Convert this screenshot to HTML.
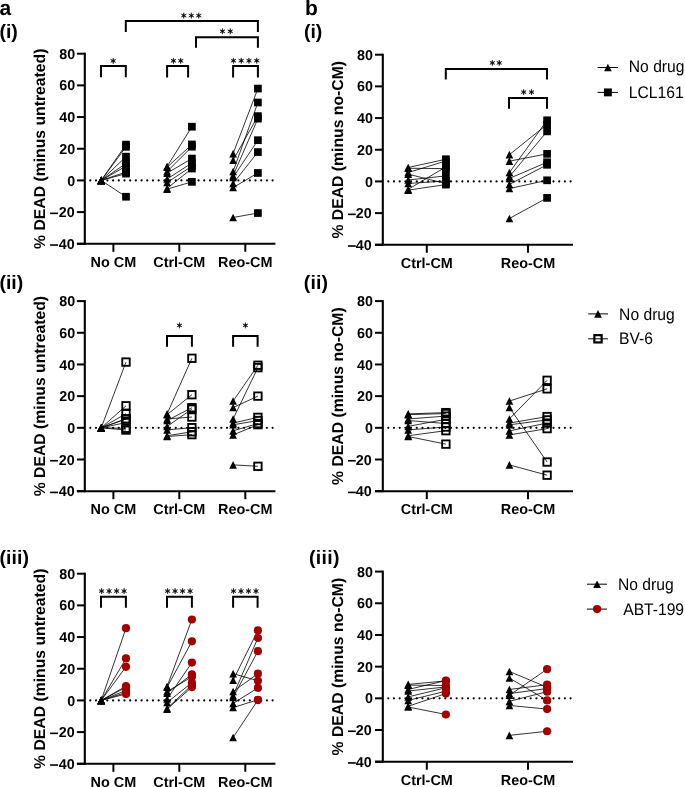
<!DOCTYPE html>
<html><head><meta charset="utf-8"><style>html,body{margin:0;padding:0;background:#fff;width:685px;height:787px;overflow:hidden}svg{will-change:transform}</style></head><body>
<svg width="685" height="787" viewBox="0 0 685 787" stroke="#000" fill="#000" font-family="'Liberation Sans', sans-serif" text-rendering="geometricPrecision" style="display:block">
<rect width="685" height="787" fill="#fff" stroke="none"/>
<text x="-0.6" y="14.9" font-size="21" font-weight="bold" text-anchor="start" stroke="none" >a</text>
<text x="305" y="15.3" font-size="21" font-weight="bold" text-anchor="start" stroke="none" >b</text>
<text x="-0.6" y="37.8" font-size="19.5" font-weight="bold" text-anchor="start" stroke="none" >(i)</text>
<text x="303.9" y="38" font-size="19.5" font-weight="bold" text-anchor="start" stroke="none" >(i)</text>
<text x="-0.6" y="289.2" font-size="19.5" font-weight="bold" text-anchor="start" stroke="none" >(ii)</text>
<text x="303.7" y="289.2" font-size="19.5" font-weight="bold" text-anchor="start" stroke="none" letter-spacing="0.2">(ii)</text>
<text x="-0.6" y="563.7" font-size="19.5" font-weight="bold" text-anchor="start" stroke="none" letter-spacing="0.1">(iii)</text>
<text x="308.9" y="563.7" font-size="19.5" font-weight="bold" text-anchor="start" stroke="none" letter-spacing="0.35">(iii)</text>
<line x1="597.6" y1="67.5" x2="618" y2="67.5" stroke-width="1.0" />
<line x1="597.6" y1="92.4" x2="618" y2="92.4" stroke-width="1.0" />
<path d="M607.9 63.7L611.75 71.3L604.05 71.3Z" stroke="none"/>
<rect x="603.95" y="88.45" width="7.9" height="7.9" stroke="none"/>
<text transform="translate(628.8,72.4) scale(1,1.07)" font-size="15.65" font-weight="normal" stroke="none">No drug</text>
<text transform="translate(628.8,97.9) scale(1,1.07)" font-size="15.65" font-weight="normal" stroke="none">LCL161</text>
<line x1="588.2" y1="313.9" x2="608" y2="313.9" stroke-width="1.0" />
<line x1="588.2" y1="338.8" x2="608" y2="338.8" stroke-width="1.0" />
<path d="M598 310.1L601.85 317.7L594.15 317.7Z" stroke="none"/>
<rect x="594.35" y="335.15" width="7.3" height="7.3" fill="none" stroke-width="2.2"/>
<text transform="translate(619.1,319.5) scale(1,1.07)" font-size="15.65" font-weight="normal" stroke="none">No drug</text>
<text transform="translate(619.1,344) scale(1,1.07)" font-size="15.65" font-weight="normal" stroke="none">BV-6</text>
<line x1="587" y1="584.2" x2="607" y2="584.2" stroke-width="1.0" />
<line x1="587" y1="609.1" x2="607" y2="609.1" stroke-width="1.0" />
<path d="M597.1 580.4L600.95 588L593.25 588Z" stroke="none"/>
<circle cx="597.1" cy="609.1" r="4.1" fill="#a20000" stroke="none"/>
<text transform="translate(618,590) scale(1,1.07)" font-size="15.65" font-weight="normal" stroke="none">No drug</text>
<text transform="translate(623.2,615.1) scale(1,1.07)" font-size="15.65" font-weight="normal" stroke="none">ABT-199</text>
<line x1="84.8" y1="52.7" x2="84.8" y2="244.78" stroke-width="2.1" />
<line x1="76.9" y1="243.78" x2="84.8" y2="243.78" stroke-width="2.0" />
<text x="74.6" y="248.88" font-size="14.3" font-weight="bold" text-anchor="end" stroke="none" >40</text>
<rect x="50.1" y="244.23" width="7.9" height="1.6" stroke="none"/>
<line x1="76.9" y1="212.1" x2="84.8" y2="212.1" stroke-width="2.0" />
<text x="74.6" y="217.2" font-size="14.3" font-weight="bold" text-anchor="end" stroke="none" >20</text>
<rect x="50.1" y="212.55" width="7.9" height="1.6" stroke="none"/>
<line x1="76.9" y1="180.42" x2="84.8" y2="180.42" stroke-width="2.0" />
<text x="75.2" y="185.52" font-size="14.3" font-weight="bold" text-anchor="end" stroke="none" >0</text>
<line x1="76.9" y1="148.74" x2="84.8" y2="148.74" stroke-width="2.0" />
<text x="75.2" y="153.84" font-size="14.3" font-weight="bold" text-anchor="end" stroke="none" >20</text>
<line x1="76.9" y1="117.06" x2="84.8" y2="117.06" stroke-width="2.0" />
<text x="75.2" y="122.16" font-size="14.3" font-weight="bold" text-anchor="end" stroke="none" >40</text>
<line x1="76.9" y1="85.38" x2="84.8" y2="85.38" stroke-width="2.0" />
<text x="75.2" y="90.48" font-size="14.3" font-weight="bold" text-anchor="end" stroke="none" >60</text>
<line x1="76.9" y1="53.7" x2="84.8" y2="53.7" stroke-width="2.0" />
<text x="75.2" y="58.8" font-size="14.3" font-weight="bold" text-anchor="end" stroke="none" >80</text>
<line x1="76.9" y1="243.78" x2="275.4" y2="243.78" stroke-width="2.1" />
<line x1="113.4" y1="243.78" x2="113.4" y2="251.78" stroke-width="2.0" />
<text x="113.4" y="266.98" font-size="14.4" font-weight="bold" text-anchor="middle" stroke="none" >No CM</text>
<line x1="179.3" y1="243.78" x2="179.3" y2="251.78" stroke-width="2.0" />
<text x="179.3" y="266.98" font-size="14.4" font-weight="bold" text-anchor="middle" stroke="none" >Ctrl-CM</text>
<line x1="245.3" y1="243.78" x2="245.3" y2="251.78" stroke-width="2.0" />
<text x="245.3" y="266.98" font-size="14.4" font-weight="bold" text-anchor="middle" stroke="none" >Reo-CM</text>
<text transform="translate(45.4,148.74) rotate(-90)" x="0" y="0" font-size="15.75" font-weight="bold" text-anchor="middle" stroke="none">% DEAD (minus untreated)</text>
<line x1="90.3" y1="180.42" x2="275.4" y2="180.42" stroke-width="2.2" stroke-dasharray="0 5.697" stroke-linecap="round"/>
<line x1="101.2" y1="180.42" x2="126" y2="144.62" stroke-width="0.8"/>
<line x1="101.2" y1="180.42" x2="126" y2="146.84" stroke-width="0.8"/>
<line x1="101.2" y1="180.42" x2="126" y2="156.66" stroke-width="0.8"/>
<line x1="101.2" y1="180.42" x2="126" y2="163.47" stroke-width="0.8"/>
<line x1="101.2" y1="180.42" x2="126" y2="166.16" stroke-width="0.8"/>
<line x1="101.2" y1="180.42" x2="126" y2="172.02" stroke-width="0.8"/>
<line x1="101.2" y1="180.42" x2="126" y2="173.61" stroke-width="0.8"/>
<line x1="101.2" y1="180.42" x2="126" y2="196.74" stroke-width="0.8"/>
<path d="M101.2 176.62L105.05 184.22L97.35 184.22Z" stroke="none"/>
<path d="M101.2 176.62L105.05 184.22L97.35 184.22Z" stroke="none"/>
<path d="M101.2 176.62L105.05 184.22L97.35 184.22Z" stroke="none"/>
<path d="M101.2 176.62L105.05 184.22L97.35 184.22Z" stroke="none"/>
<path d="M101.2 176.62L105.05 184.22L97.35 184.22Z" stroke="none"/>
<path d="M101.2 176.62L105.05 184.22L97.35 184.22Z" stroke="none"/>
<path d="M101.2 176.62L105.05 184.22L97.35 184.22Z" stroke="none"/>
<path d="M101.2 176.62L105.05 184.22L97.35 184.22Z" stroke="none"/>
<rect x="122.15" y="140.77" width="7.7" height="7.7" stroke="none"/>
<rect x="122.15" y="142.99" width="7.7" height="7.7" stroke="none"/>
<rect x="122.15" y="152.81" width="7.7" height="7.7" stroke="none"/>
<rect x="122.15" y="159.62" width="7.7" height="7.7" stroke="none"/>
<rect x="122.15" y="162.31" width="7.7" height="7.7" stroke="none"/>
<rect x="122.15" y="168.17" width="7.7" height="7.7" stroke="none"/>
<rect x="122.15" y="169.76" width="7.7" height="7.7" stroke="none"/>
<rect x="122.15" y="192.89" width="7.7" height="7.7" stroke="none"/>
<line x1="167.1" y1="166.48" x2="191.9" y2="126.72" stroke-width="0.8"/>
<line x1="167.1" y1="167.27" x2="191.9" y2="144.46" stroke-width="0.8"/>
<line x1="167.1" y1="171.55" x2="191.9" y2="146.68" stroke-width="0.8"/>
<line x1="167.1" y1="173.13" x2="191.9" y2="158.56" stroke-width="0.8"/>
<line x1="167.1" y1="178.99" x2="191.9" y2="163" stroke-width="0.8"/>
<line x1="167.1" y1="182.48" x2="191.9" y2="166.16" stroke-width="0.8"/>
<line x1="167.1" y1="188.34" x2="191.9" y2="168.54" stroke-width="0.8"/>
<line x1="167.1" y1="189.13" x2="191.9" y2="181.85" stroke-width="0.8"/>
<path d="M167.1 162.68L170.95 170.28L163.25 170.28Z" stroke="none"/>
<path d="M167.1 163.47L170.95 171.07L163.25 171.07Z" stroke="none"/>
<path d="M167.1 167.75L170.95 175.35L163.25 175.35Z" stroke="none"/>
<path d="M167.1 169.33L170.95 176.93L163.25 176.93Z" stroke="none"/>
<path d="M167.1 175.19L170.95 182.79L163.25 182.79Z" stroke="none"/>
<path d="M167.1 178.68L170.95 186.28L163.25 186.28Z" stroke="none"/>
<path d="M167.1 184.54L170.95 192.14L163.25 192.14Z" stroke="none"/>
<path d="M167.1 185.33L170.95 192.93L163.25 192.93Z" stroke="none"/>
<rect x="188.05" y="122.87" width="7.7" height="7.7" stroke="none"/>
<rect x="188.05" y="140.61" width="7.7" height="7.7" stroke="none"/>
<rect x="188.05" y="142.83" width="7.7" height="7.7" stroke="none"/>
<rect x="188.05" y="154.71" width="7.7" height="7.7" stroke="none"/>
<rect x="188.05" y="159.15" width="7.7" height="7.7" stroke="none"/>
<rect x="188.05" y="162.31" width="7.7" height="7.7" stroke="none"/>
<rect x="188.05" y="164.69" width="7.7" height="7.7" stroke="none"/>
<rect x="188.05" y="178" width="7.7" height="7.7" stroke="none"/>
<line x1="233.1" y1="153.65" x2="257.9" y2="88.55" stroke-width="0.8"/>
<line x1="233.1" y1="160.14" x2="257.9" y2="116.11" stroke-width="0.8"/>
<line x1="233.1" y1="171.55" x2="257.9" y2="102.49" stroke-width="0.8"/>
<line x1="233.1" y1="175.67" x2="257.9" y2="118.64" stroke-width="0.8"/>
<line x1="233.1" y1="177.41" x2="257.9" y2="140.19" stroke-width="0.8"/>
<line x1="233.1" y1="183.43" x2="257.9" y2="152.07" stroke-width="0.8"/>
<line x1="233.1" y1="187.55" x2="257.9" y2="172.98" stroke-width="0.8"/>
<line x1="233.1" y1="217.49" x2="257.9" y2="213.05" stroke-width="0.8"/>
<path d="M233.1 149.85L236.95 157.45L229.25 157.45Z" stroke="none"/>
<path d="M233.1 156.34L236.95 163.94L229.25 163.94Z" stroke="none"/>
<path d="M233.1 167.75L236.95 175.35L229.25 175.35Z" stroke="none"/>
<path d="M233.1 171.87L236.95 179.47L229.25 179.47Z" stroke="none"/>
<path d="M233.1 173.61L236.95 181.21L229.25 181.21Z" stroke="none"/>
<path d="M233.1 179.63L236.95 187.23L229.25 187.23Z" stroke="none"/>
<path d="M233.1 183.75L236.95 191.35L229.25 191.35Z" stroke="none"/>
<path d="M233.1 213.69L236.95 221.29L229.25 221.29Z" stroke="none"/>
<rect x="254.05" y="84.7" width="7.7" height="7.7" stroke="none"/>
<rect x="254.05" y="112.26" width="7.7" height="7.7" stroke="none"/>
<rect x="254.05" y="98.64" width="7.7" height="7.7" stroke="none"/>
<rect x="254.05" y="114.79" width="7.7" height="7.7" stroke="none"/>
<rect x="254.05" y="136.34" width="7.7" height="7.7" stroke="none"/>
<rect x="254.05" y="148.22" width="7.7" height="7.7" stroke="none"/>
<rect x="254.05" y="169.13" width="7.7" height="7.7" stroke="none"/>
<rect x="254.05" y="209.2" width="7.7" height="7.7" stroke="none"/>
<line x1="84.8" y1="300.1" x2="84.8" y2="492.18" stroke-width="2.1" />
<line x1="76.9" y1="491.18" x2="84.8" y2="491.18" stroke-width="2.0" />
<text x="74.6" y="496.28" font-size="14.3" font-weight="bold" text-anchor="end" stroke="none" >40</text>
<rect x="50.1" y="491.63" width="7.9" height="1.6" stroke="none"/>
<line x1="76.9" y1="459.5" x2="84.8" y2="459.5" stroke-width="2.0" />
<text x="74.6" y="464.6" font-size="14.3" font-weight="bold" text-anchor="end" stroke="none" >20</text>
<rect x="50.1" y="459.95" width="7.9" height="1.6" stroke="none"/>
<line x1="76.9" y1="427.82" x2="84.8" y2="427.82" stroke-width="2.0" />
<text x="75.2" y="432.92" font-size="14.3" font-weight="bold" text-anchor="end" stroke="none" >0</text>
<line x1="76.9" y1="396.14" x2="84.8" y2="396.14" stroke-width="2.0" />
<text x="75.2" y="401.24" font-size="14.3" font-weight="bold" text-anchor="end" stroke="none" >20</text>
<line x1="76.9" y1="364.46" x2="84.8" y2="364.46" stroke-width="2.0" />
<text x="75.2" y="369.56" font-size="14.3" font-weight="bold" text-anchor="end" stroke="none" >40</text>
<line x1="76.9" y1="332.78" x2="84.8" y2="332.78" stroke-width="2.0" />
<text x="75.2" y="337.88" font-size="14.3" font-weight="bold" text-anchor="end" stroke="none" >60</text>
<line x1="76.9" y1="301.1" x2="84.8" y2="301.1" stroke-width="2.0" />
<text x="75.2" y="306.2" font-size="14.3" font-weight="bold" text-anchor="end" stroke="none" >80</text>
<line x1="76.9" y1="491.18" x2="275.4" y2="491.18" stroke-width="2.1" />
<line x1="113.4" y1="491.18" x2="113.4" y2="499.18" stroke-width="2.0" />
<text x="113.4" y="514.38" font-size="14.4" font-weight="bold" text-anchor="middle" stroke="none" >No CM</text>
<line x1="179.3" y1="491.18" x2="179.3" y2="499.18" stroke-width="2.0" />
<text x="179.3" y="514.38" font-size="14.4" font-weight="bold" text-anchor="middle" stroke="none" >Ctrl-CM</text>
<line x1="245.3" y1="491.18" x2="245.3" y2="499.18" stroke-width="2.0" />
<text x="245.3" y="514.38" font-size="14.4" font-weight="bold" text-anchor="middle" stroke="none" >Reo-CM</text>
<text transform="translate(45.4,396.14) rotate(-90)" x="0" y="0" font-size="15.75" font-weight="bold" text-anchor="middle" stroke="none">% DEAD (minus untreated)</text>
<line x1="90.3" y1="427.82" x2="275.4" y2="427.82" stroke-width="2.2" stroke-dasharray="0 5.697" stroke-linecap="round"/>
<line x1="101.2" y1="427.82" x2="126" y2="362.08" stroke-width="0.8"/>
<line x1="101.2" y1="427.82" x2="126" y2="405.8" stroke-width="0.8"/>
<line x1="101.2" y1="427.82" x2="126" y2="413.72" stroke-width="0.8"/>
<line x1="101.2" y1="427.82" x2="126" y2="418.95" stroke-width="0.8"/>
<line x1="101.2" y1="427.82" x2="126" y2="422.59" stroke-width="0.8"/>
<line x1="101.2" y1="427.82" x2="126" y2="428.3" stroke-width="0.8"/>
<line x1="101.2" y1="427.82" x2="126" y2="430.04" stroke-width="0.8"/>
<line x1="101.2" y1="427.82" x2="126" y2="418.95" stroke-width="0.8"/>
<path d="M101.2 424.02L105.05 431.62L97.35 431.62Z" stroke="none"/>
<path d="M101.2 424.02L105.05 431.62L97.35 431.62Z" stroke="none"/>
<path d="M101.2 424.02L105.05 431.62L97.35 431.62Z" stroke="none"/>
<path d="M101.2 424.02L105.05 431.62L97.35 431.62Z" stroke="none"/>
<path d="M101.2 424.02L105.05 431.62L97.35 431.62Z" stroke="none"/>
<path d="M101.2 424.02L105.05 431.62L97.35 431.62Z" stroke="none"/>
<path d="M101.2 424.02L105.05 431.62L97.35 431.62Z" stroke="none"/>
<path d="M101.2 424.02L105.05 431.62L97.35 431.62Z" stroke="none"/>
<rect x="122.28" y="358.36" width="7.45" height="7.45" fill="none" stroke-width="1.85"/>
<rect x="122.28" y="402.08" width="7.45" height="7.45" fill="none" stroke-width="1.85"/>
<rect x="122.28" y="410" width="7.45" height="7.45" fill="none" stroke-width="1.85"/>
<rect x="122.28" y="415.22" width="7.45" height="7.45" fill="none" stroke-width="1.85"/>
<rect x="122.28" y="418.87" width="7.45" height="7.45" fill="none" stroke-width="1.85"/>
<rect x="122.28" y="424.57" width="7.45" height="7.45" fill="none" stroke-width="1.85"/>
<rect x="122.28" y="426.31" width="7.45" height="7.45" fill="none" stroke-width="1.85"/>
<rect x="122.28" y="415.22" width="7.45" height="7.45" fill="none" stroke-width="1.85"/>
<line x1="167.1" y1="413.88" x2="191.9" y2="358.28" stroke-width="0.8"/>
<line x1="167.1" y1="414.67" x2="191.9" y2="394.71" stroke-width="0.8"/>
<line x1="167.1" y1="418.95" x2="191.9" y2="417.05" stroke-width="0.8"/>
<line x1="167.1" y1="420.53" x2="191.9" y2="407.7" stroke-width="0.8"/>
<line x1="167.1" y1="426.39" x2="191.9" y2="409.13" stroke-width="0.8"/>
<line x1="167.1" y1="429.88" x2="191.9" y2="427.66" stroke-width="0.8"/>
<line x1="167.1" y1="435.74" x2="191.9" y2="431.78" stroke-width="0.8"/>
<line x1="167.1" y1="436.53" x2="191.9" y2="434.63" stroke-width="0.8"/>
<path d="M167.1 410.08L170.95 417.68L163.25 417.68Z" stroke="none"/>
<path d="M167.1 410.87L170.95 418.47L163.25 418.47Z" stroke="none"/>
<path d="M167.1 415.15L170.95 422.75L163.25 422.75Z" stroke="none"/>
<path d="M167.1 416.73L170.95 424.33L163.25 424.33Z" stroke="none"/>
<path d="M167.1 422.59L170.95 430.19L163.25 430.19Z" stroke="none"/>
<path d="M167.1 426.08L170.95 433.68L163.25 433.68Z" stroke="none"/>
<path d="M167.1 431.94L170.95 439.54L163.25 439.54Z" stroke="none"/>
<path d="M167.1 432.73L170.95 440.33L163.25 440.33Z" stroke="none"/>
<rect x="188.18" y="354.56" width="7.45" height="7.45" fill="none" stroke-width="1.85"/>
<rect x="188.18" y="390.99" width="7.45" height="7.45" fill="none" stroke-width="1.85"/>
<rect x="188.18" y="413.32" width="7.45" height="7.45" fill="none" stroke-width="1.85"/>
<rect x="188.18" y="403.98" width="7.45" height="7.45" fill="none" stroke-width="1.85"/>
<rect x="188.18" y="405.4" width="7.45" height="7.45" fill="none" stroke-width="1.85"/>
<rect x="188.18" y="423.94" width="7.45" height="7.45" fill="none" stroke-width="1.85"/>
<rect x="188.18" y="428.06" width="7.45" height="7.45" fill="none" stroke-width="1.85"/>
<rect x="188.18" y="430.91" width="7.45" height="7.45" fill="none" stroke-width="1.85"/>
<line x1="233.1" y1="401.05" x2="257.9" y2="365.25" stroke-width="0.8"/>
<line x1="233.1" y1="407.54" x2="257.9" y2="396.14" stroke-width="0.8"/>
<line x1="233.1" y1="418.95" x2="257.9" y2="367.63" stroke-width="0.8"/>
<line x1="233.1" y1="423.07" x2="257.9" y2="417.37" stroke-width="0.8"/>
<line x1="233.1" y1="424.81" x2="257.9" y2="420.53" stroke-width="0.8"/>
<line x1="233.1" y1="430.83" x2="257.9" y2="423.54" stroke-width="0.8"/>
<line x1="233.1" y1="434.95" x2="257.9" y2="424.65" stroke-width="0.8"/>
<line x1="233.1" y1="464.89" x2="257.9" y2="466.31" stroke-width="0.8"/>
<path d="M233.1 397.25L236.95 404.85L229.25 404.85Z" stroke="none"/>
<path d="M233.1 403.74L236.95 411.34L229.25 411.34Z" stroke="none"/>
<path d="M233.1 415.15L236.95 422.75L229.25 422.75Z" stroke="none"/>
<path d="M233.1 419.27L236.95 426.87L229.25 426.87Z" stroke="none"/>
<path d="M233.1 421.01L236.95 428.61L229.25 428.61Z" stroke="none"/>
<path d="M233.1 427.03L236.95 434.63L229.25 434.63Z" stroke="none"/>
<path d="M233.1 431.15L236.95 438.75L229.25 438.75Z" stroke="none"/>
<path d="M233.1 461.09L236.95 468.69L229.25 468.69Z" stroke="none"/>
<rect x="254.18" y="361.53" width="7.45" height="7.45" fill="none" stroke-width="1.85"/>
<rect x="254.18" y="392.42" width="7.45" height="7.45" fill="none" stroke-width="1.85"/>
<rect x="254.18" y="363.9" width="7.45" height="7.45" fill="none" stroke-width="1.85"/>
<rect x="254.18" y="413.64" width="7.45" height="7.45" fill="none" stroke-width="1.85"/>
<rect x="254.18" y="416.81" width="7.45" height="7.45" fill="none" stroke-width="1.85"/>
<rect x="254.18" y="419.82" width="7.45" height="7.45" fill="none" stroke-width="1.85"/>
<rect x="254.18" y="420.93" width="7.45" height="7.45" fill="none" stroke-width="1.85"/>
<rect x="254.18" y="462.59" width="7.45" height="7.45" fill="none" stroke-width="1.85"/>
<line x1="84.8" y1="572.7" x2="84.8" y2="764.78" stroke-width="2.1" />
<line x1="76.9" y1="763.78" x2="84.8" y2="763.78" stroke-width="2.0" />
<text x="74.6" y="768.88" font-size="14.3" font-weight="bold" text-anchor="end" stroke="none" >40</text>
<rect x="50.1" y="764.23" width="7.9" height="1.6" stroke="none"/>
<line x1="76.9" y1="732.1" x2="84.8" y2="732.1" stroke-width="2.0" />
<text x="74.6" y="737.2" font-size="14.3" font-weight="bold" text-anchor="end" stroke="none" >20</text>
<rect x="50.1" y="732.55" width="7.9" height="1.6" stroke="none"/>
<line x1="76.9" y1="700.42" x2="84.8" y2="700.42" stroke-width="2.0" />
<text x="75.2" y="705.52" font-size="14.3" font-weight="bold" text-anchor="end" stroke="none" >0</text>
<line x1="76.9" y1="668.74" x2="84.8" y2="668.74" stroke-width="2.0" />
<text x="75.2" y="673.84" font-size="14.3" font-weight="bold" text-anchor="end" stroke="none" >20</text>
<line x1="76.9" y1="637.06" x2="84.8" y2="637.06" stroke-width="2.0" />
<text x="75.2" y="642.16" font-size="14.3" font-weight="bold" text-anchor="end" stroke="none" >40</text>
<line x1="76.9" y1="605.38" x2="84.8" y2="605.38" stroke-width="2.0" />
<text x="75.2" y="610.48" font-size="14.3" font-weight="bold" text-anchor="end" stroke="none" >60</text>
<line x1="76.9" y1="573.7" x2="84.8" y2="573.7" stroke-width="2.0" />
<text x="75.2" y="578.8" font-size="14.3" font-weight="bold" text-anchor="end" stroke="none" >80</text>
<line x1="76.9" y1="763.78" x2="275.4" y2="763.78" stroke-width="2.1" />
<line x1="113.4" y1="763.78" x2="113.4" y2="771.78" stroke-width="2.0" />
<text x="113.4" y="786.98" font-size="14.4" font-weight="bold" text-anchor="middle" stroke="none" >No CM</text>
<line x1="179.3" y1="763.78" x2="179.3" y2="771.78" stroke-width="2.0" />
<text x="179.3" y="786.98" font-size="14.4" font-weight="bold" text-anchor="middle" stroke="none" >Ctrl-CM</text>
<line x1="245.3" y1="763.78" x2="245.3" y2="771.78" stroke-width="2.0" />
<text x="245.3" y="786.98" font-size="14.4" font-weight="bold" text-anchor="middle" stroke="none" >Reo-CM</text>
<text transform="translate(45.4,668.74) rotate(-90)" x="0" y="0" font-size="15.75" font-weight="bold" text-anchor="middle" stroke="none">% DEAD (minus untreated)</text>
<line x1="90.3" y1="700.42" x2="275.4" y2="700.42" stroke-width="2.2" stroke-dasharray="0 5.697" stroke-linecap="round"/>
<line x1="101.2" y1="700.42" x2="126" y2="628.19" stroke-width="0.8"/>
<line x1="101.2" y1="700.42" x2="126" y2="658.44" stroke-width="0.8"/>
<line x1="101.2" y1="700.42" x2="126" y2="666.84" stroke-width="0.8"/>
<line x1="101.2" y1="700.42" x2="126" y2="686.16" stroke-width="0.8"/>
<line x1="101.2" y1="700.42" x2="126" y2="687.27" stroke-width="0.8"/>
<line x1="101.2" y1="700.42" x2="126" y2="690.44" stroke-width="0.8"/>
<line x1="101.2" y1="700.42" x2="126" y2="692.5" stroke-width="0.8"/>
<line x1="101.2" y1="700.42" x2="126" y2="693.93" stroke-width="0.8"/>
<path d="M101.2 696.62L105.05 704.22L97.35 704.22Z" stroke="none"/>
<path d="M101.2 696.62L105.05 704.22L97.35 704.22Z" stroke="none"/>
<path d="M101.2 696.62L105.05 704.22L97.35 704.22Z" stroke="none"/>
<path d="M101.2 696.62L105.05 704.22L97.35 704.22Z" stroke="none"/>
<path d="M101.2 696.62L105.05 704.22L97.35 704.22Z" stroke="none"/>
<path d="M101.2 696.62L105.05 704.22L97.35 704.22Z" stroke="none"/>
<path d="M101.2 696.62L105.05 704.22L97.35 704.22Z" stroke="none"/>
<path d="M101.2 696.62L105.05 704.22L97.35 704.22Z" stroke="none"/>
<circle cx="126" cy="628.19" r="4.1" fill="#a20000" stroke="none"/>
<circle cx="126" cy="658.44" r="4.1" fill="#a20000" stroke="none"/>
<circle cx="126" cy="666.84" r="4.1" fill="#a20000" stroke="none"/>
<circle cx="126" cy="686.16" r="4.1" fill="#a20000" stroke="none"/>
<circle cx="126" cy="687.27" r="4.1" fill="#a20000" stroke="none"/>
<circle cx="126" cy="690.44" r="4.1" fill="#a20000" stroke="none"/>
<circle cx="126" cy="692.5" r="4.1" fill="#a20000" stroke="none"/>
<circle cx="126" cy="693.93" r="4.1" fill="#a20000" stroke="none"/>
<line x1="167.1" y1="686.48" x2="191.9" y2="619.48" stroke-width="0.8"/>
<line x1="167.1" y1="687.27" x2="191.9" y2="641.34" stroke-width="0.8"/>
<line x1="167.1" y1="691.55" x2="191.9" y2="676.82" stroke-width="0.8"/>
<line x1="167.1" y1="693.13" x2="191.9" y2="674.44" stroke-width="0.8"/>
<line x1="167.1" y1="698.99" x2="191.9" y2="662.56" stroke-width="0.8"/>
<line x1="167.1" y1="702.48" x2="191.9" y2="682.68" stroke-width="0.8"/>
<line x1="167.1" y1="708.34" x2="191.9" y2="685.06" stroke-width="0.8"/>
<line x1="167.1" y1="709.13" x2="191.9" y2="687.11" stroke-width="0.8"/>
<path d="M167.1 682.68L170.95 690.28L163.25 690.28Z" stroke="none"/>
<path d="M167.1 683.47L170.95 691.07L163.25 691.07Z" stroke="none"/>
<path d="M167.1 687.75L170.95 695.35L163.25 695.35Z" stroke="none"/>
<path d="M167.1 689.33L170.95 696.93L163.25 696.93Z" stroke="none"/>
<path d="M167.1 695.19L170.95 702.79L163.25 702.79Z" stroke="none"/>
<path d="M167.1 698.68L170.95 706.28L163.25 706.28Z" stroke="none"/>
<path d="M167.1 704.54L170.95 712.14L163.25 712.14Z" stroke="none"/>
<path d="M167.1 705.33L170.95 712.93L163.25 712.93Z" stroke="none"/>
<circle cx="191.9" cy="619.48" r="4.1" fill="#a20000" stroke="none"/>
<circle cx="191.9" cy="641.34" r="4.1" fill="#a20000" stroke="none"/>
<circle cx="191.9" cy="676.82" r="4.1" fill="#a20000" stroke="none"/>
<circle cx="191.9" cy="674.44" r="4.1" fill="#a20000" stroke="none"/>
<circle cx="191.9" cy="662.56" r="4.1" fill="#a20000" stroke="none"/>
<circle cx="191.9" cy="682.68" r="4.1" fill="#a20000" stroke="none"/>
<circle cx="191.9" cy="685.06" r="4.1" fill="#a20000" stroke="none"/>
<circle cx="191.9" cy="687.11" r="4.1" fill="#a20000" stroke="none"/>
<line x1="233.1" y1="673.65" x2="257.9" y2="680.78" stroke-width="0.8"/>
<line x1="233.1" y1="680.14" x2="257.9" y2="630.41" stroke-width="0.8"/>
<line x1="233.1" y1="691.55" x2="257.9" y2="673.65" stroke-width="0.8"/>
<line x1="233.1" y1="695.67" x2="257.9" y2="638.01" stroke-width="0.8"/>
<line x1="233.1" y1="697.41" x2="257.9" y2="651.16" stroke-width="0.8"/>
<line x1="233.1" y1="703.43" x2="257.9" y2="687.91" stroke-width="0.8"/>
<line x1="233.1" y1="707.55" x2="257.9" y2="699.79" stroke-width="0.8"/>
<line x1="233.1" y1="737.49" x2="257.9" y2="700.1" stroke-width="0.8"/>
<path d="M233.1 669.85L236.95 677.45L229.25 677.45Z" stroke="none"/>
<path d="M233.1 676.34L236.95 683.94L229.25 683.94Z" stroke="none"/>
<path d="M233.1 687.75L236.95 695.35L229.25 695.35Z" stroke="none"/>
<path d="M233.1 691.87L236.95 699.47L229.25 699.47Z" stroke="none"/>
<path d="M233.1 693.61L236.95 701.21L229.25 701.21Z" stroke="none"/>
<path d="M233.1 699.63L236.95 707.23L229.25 707.23Z" stroke="none"/>
<path d="M233.1 703.75L236.95 711.35L229.25 711.35Z" stroke="none"/>
<path d="M233.1 733.69L236.95 741.29L229.25 741.29Z" stroke="none"/>
<circle cx="257.9" cy="680.78" r="4.1" fill="#a20000" stroke="none"/>
<circle cx="257.9" cy="630.41" r="4.1" fill="#a20000" stroke="none"/>
<circle cx="257.9" cy="673.65" r="4.1" fill="#a20000" stroke="none"/>
<circle cx="257.9" cy="638.01" r="4.1" fill="#a20000" stroke="none"/>
<circle cx="257.9" cy="651.16" r="4.1" fill="#a20000" stroke="none"/>
<circle cx="257.9" cy="687.91" r="4.1" fill="#a20000" stroke="none"/>
<circle cx="257.9" cy="699.79" r="4.1" fill="#a20000" stroke="none"/>
<circle cx="257.9" cy="700.1" r="4.1" fill="#a20000" stroke="none"/>
<line x1="382.8" y1="53.7" x2="382.8" y2="245.78" stroke-width="2.1" />
<line x1="375" y1="244.78" x2="382.8" y2="244.78" stroke-width="2.0" />
<text x="371.6" y="249.88" font-size="14.3" font-weight="bold" text-anchor="end" stroke="none" >40</text>
<rect x="348" y="245.23" width="7.8" height="1.6" stroke="none"/>
<line x1="375" y1="213.1" x2="382.8" y2="213.1" stroke-width="2.0" />
<text x="371.6" y="218.2" font-size="14.3" font-weight="bold" text-anchor="end" stroke="none" >20</text>
<rect x="348" y="213.55" width="7.8" height="1.6" stroke="none"/>
<line x1="375" y1="181.42" x2="382.8" y2="181.42" stroke-width="2.0" />
<text x="372.9" y="186.52" font-size="14.3" font-weight="bold" text-anchor="end" stroke="none" >0</text>
<line x1="375" y1="149.74" x2="382.8" y2="149.74" stroke-width="2.0" />
<text x="372.9" y="154.84" font-size="14.3" font-weight="bold" text-anchor="end" stroke="none" >20</text>
<line x1="375" y1="118.06" x2="382.8" y2="118.06" stroke-width="2.0" />
<text x="372.9" y="123.16" font-size="14.3" font-weight="bold" text-anchor="end" stroke="none" >40</text>
<line x1="375" y1="86.38" x2="382.8" y2="86.38" stroke-width="2.0" />
<text x="372.9" y="91.48" font-size="14.3" font-weight="bold" text-anchor="end" stroke="none" >60</text>
<line x1="375" y1="54.7" x2="382.8" y2="54.7" stroke-width="2.0" />
<text x="372.9" y="59.8" font-size="14.3" font-weight="bold" text-anchor="end" stroke="none" >80</text>
<line x1="375" y1="244.78" x2="573" y2="244.78" stroke-width="2.1" />
<line x1="426.8" y1="244.78" x2="426.8" y2="252.78" stroke-width="2.0" />
<text x="426.8" y="267.98" font-size="14.4" font-weight="bold" text-anchor="middle" stroke="none" >Ctrl-CM</text>
<line x1="528" y1="244.78" x2="528" y2="252.78" stroke-width="2.0" />
<text x="528" y="267.98" font-size="14.4" font-weight="bold" text-anchor="middle" stroke="none" >Reo-CM</text>
<text transform="translate(343.1,149.74) rotate(-90)" x="0" y="0" font-size="15.75" font-weight="bold" text-anchor="middle" stroke="none">% DEAD (minus no-CM)</text>
<line x1="388.3" y1="181.42" x2="573" y2="181.42" stroke-width="2.2" stroke-dasharray="0 5.697" stroke-linecap="round"/>
<line x1="408.2" y1="167.48" x2="445.9" y2="159.24" stroke-width="0.8"/>
<line x1="408.2" y1="168.27" x2="445.9" y2="168.59" stroke-width="0.8"/>
<line x1="408.2" y1="172.55" x2="445.9" y2="160.99" stroke-width="0.8"/>
<line x1="408.2" y1="174.13" x2="445.9" y2="183.64" stroke-width="0.8"/>
<line x1="408.2" y1="179.99" x2="445.9" y2="175.88" stroke-width="0.8"/>
<line x1="408.2" y1="183.48" x2="445.9" y2="180.94" stroke-width="0.8"/>
<line x1="408.2" y1="189.34" x2="445.9" y2="166.85" stroke-width="0.8"/>
<line x1="408.2" y1="190.13" x2="445.9" y2="184.59" stroke-width="0.8"/>
<path d="M408.2 163.68L412.05 171.28L404.35 171.28Z" stroke="none"/>
<path d="M408.2 164.47L412.05 172.07L404.35 172.07Z" stroke="none"/>
<path d="M408.2 168.75L412.05 176.35L404.35 176.35Z" stroke="none"/>
<path d="M408.2 170.33L412.05 177.93L404.35 177.93Z" stroke="none"/>
<path d="M408.2 176.19L412.05 183.79L404.35 183.79Z" stroke="none"/>
<path d="M408.2 179.68L412.05 187.28L404.35 187.28Z" stroke="none"/>
<path d="M408.2 185.54L412.05 193.14L404.35 193.14Z" stroke="none"/>
<path d="M408.2 186.33L412.05 193.93L404.35 193.93Z" stroke="none"/>
<rect x="442.05" y="155.39" width="7.7" height="7.7" stroke="none"/>
<rect x="442.05" y="164.74" width="7.7" height="7.7" stroke="none"/>
<rect x="442.05" y="157.14" width="7.7" height="7.7" stroke="none"/>
<rect x="442.05" y="179.79" width="7.7" height="7.7" stroke="none"/>
<rect x="442.05" y="172.03" width="7.7" height="7.7" stroke="none"/>
<rect x="442.05" y="177.09" width="7.7" height="7.7" stroke="none"/>
<rect x="442.05" y="163" width="7.7" height="7.7" stroke="none"/>
<rect x="442.05" y="180.74" width="7.7" height="7.7" stroke="none"/>
<line x1="509.4" y1="154.65" x2="547.1" y2="124.4" stroke-width="0.8"/>
<line x1="509.4" y1="161.14" x2="547.1" y2="153.86" stroke-width="0.8"/>
<line x1="509.4" y1="172.55" x2="547.1" y2="120.28" stroke-width="0.8"/>
<line x1="509.4" y1="176.67" x2="547.1" y2="131.37" stroke-width="0.8"/>
<line x1="509.4" y1="178.41" x2="547.1" y2="162.25" stroke-width="0.8"/>
<line x1="509.4" y1="184.43" x2="547.1" y2="164.79" stroke-width="0.8"/>
<line x1="509.4" y1="188.55" x2="547.1" y2="180.31" stroke-width="0.8"/>
<line x1="509.4" y1="218.49" x2="547.1" y2="197.89" stroke-width="0.8"/>
<path d="M509.4 150.85L513.25 158.45L505.55 158.45Z" stroke="none"/>
<path d="M509.4 157.34L513.25 164.94L505.55 164.94Z" stroke="none"/>
<path d="M509.4 168.75L513.25 176.35L505.55 176.35Z" stroke="none"/>
<path d="M509.4 172.87L513.25 180.47L505.55 180.47Z" stroke="none"/>
<path d="M509.4 174.61L513.25 182.21L505.55 182.21Z" stroke="none"/>
<path d="M509.4 180.63L513.25 188.23L505.55 188.23Z" stroke="none"/>
<path d="M509.4 184.75L513.25 192.35L505.55 192.35Z" stroke="none"/>
<path d="M509.4 214.69L513.25 222.29L505.55 222.29Z" stroke="none"/>
<rect x="543.25" y="120.55" width="7.7" height="7.7" stroke="none"/>
<rect x="543.25" y="150.01" width="7.7" height="7.7" stroke="none"/>
<rect x="543.25" y="116.43" width="7.7" height="7.7" stroke="none"/>
<rect x="543.25" y="127.52" width="7.7" height="7.7" stroke="none"/>
<rect x="543.25" y="158.4" width="7.7" height="7.7" stroke="none"/>
<rect x="543.25" y="160.94" width="7.7" height="7.7" stroke="none"/>
<rect x="543.25" y="176.46" width="7.7" height="7.7" stroke="none"/>
<rect x="543.25" y="194.04" width="7.7" height="7.7" stroke="none"/>
<line x1="382.8" y1="300.1" x2="382.8" y2="492.18" stroke-width="2.1" />
<line x1="375" y1="491.18" x2="382.8" y2="491.18" stroke-width="2.0" />
<text x="371.6" y="496.28" font-size="14.3" font-weight="bold" text-anchor="end" stroke="none" >40</text>
<rect x="348" y="491.63" width="7.8" height="1.6" stroke="none"/>
<line x1="375" y1="459.5" x2="382.8" y2="459.5" stroke-width="2.0" />
<text x="371.6" y="464.6" font-size="14.3" font-weight="bold" text-anchor="end" stroke="none" >20</text>
<rect x="348" y="459.95" width="7.8" height="1.6" stroke="none"/>
<line x1="375" y1="427.82" x2="382.8" y2="427.82" stroke-width="2.0" />
<text x="372.9" y="432.92" font-size="14.3" font-weight="bold" text-anchor="end" stroke="none" >0</text>
<line x1="375" y1="396.14" x2="382.8" y2="396.14" stroke-width="2.0" />
<text x="372.9" y="401.24" font-size="14.3" font-weight="bold" text-anchor="end" stroke="none" >20</text>
<line x1="375" y1="364.46" x2="382.8" y2="364.46" stroke-width="2.0" />
<text x="372.9" y="369.56" font-size="14.3" font-weight="bold" text-anchor="end" stroke="none" >40</text>
<line x1="375" y1="332.78" x2="382.8" y2="332.78" stroke-width="2.0" />
<text x="372.9" y="337.88" font-size="14.3" font-weight="bold" text-anchor="end" stroke="none" >60</text>
<line x1="375" y1="301.1" x2="382.8" y2="301.1" stroke-width="2.0" />
<text x="372.9" y="306.2" font-size="14.3" font-weight="bold" text-anchor="end" stroke="none" >80</text>
<line x1="375" y1="491.18" x2="573" y2="491.18" stroke-width="2.1" />
<line x1="426.8" y1="491.18" x2="426.8" y2="499.18" stroke-width="2.0" />
<text x="426.8" y="514.38" font-size="14.4" font-weight="bold" text-anchor="middle" stroke="none" >Ctrl-CM</text>
<line x1="528" y1="491.18" x2="528" y2="499.18" stroke-width="2.0" />
<text x="528" y="514.38" font-size="14.4" font-weight="bold" text-anchor="middle" stroke="none" >Reo-CM</text>
<text transform="translate(343.1,396.14) rotate(-90)" x="0" y="0" font-size="15.75" font-weight="bold" text-anchor="middle" stroke="none">% DEAD (minus no-CM)</text>
<line x1="388.3" y1="427.82" x2="573" y2="427.82" stroke-width="2.2" stroke-dasharray="0 5.697" stroke-linecap="round"/>
<line x1="408.2" y1="413.88" x2="445.9" y2="412.61" stroke-width="0.8"/>
<line x1="408.2" y1="414.67" x2="445.9" y2="413.56" stroke-width="0.8"/>
<line x1="408.2" y1="418.95" x2="445.9" y2="416.1" stroke-width="0.8"/>
<line x1="408.2" y1="420.53" x2="445.9" y2="423.54" stroke-width="0.8"/>
<line x1="408.2" y1="426.39" x2="445.9" y2="419.27" stroke-width="0.8"/>
<line x1="408.2" y1="429.88" x2="445.9" y2="427.03" stroke-width="0.8"/>
<line x1="408.2" y1="435.74" x2="445.9" y2="430.67" stroke-width="0.8"/>
<line x1="408.2" y1="436.53" x2="445.9" y2="444.14" stroke-width="0.8"/>
<path d="M408.2 410.08L412.05 417.68L404.35 417.68Z" stroke="none"/>
<path d="M408.2 410.87L412.05 418.47L404.35 418.47Z" stroke="none"/>
<path d="M408.2 415.15L412.05 422.75L404.35 422.75Z" stroke="none"/>
<path d="M408.2 416.73L412.05 424.33L404.35 424.33Z" stroke="none"/>
<path d="M408.2 422.59L412.05 430.19L404.35 430.19Z" stroke="none"/>
<path d="M408.2 426.08L412.05 433.68L404.35 433.68Z" stroke="none"/>
<path d="M408.2 431.94L412.05 439.54L404.35 439.54Z" stroke="none"/>
<path d="M408.2 432.73L412.05 440.33L404.35 440.33Z" stroke="none"/>
<rect x="442.18" y="408.89" width="7.45" height="7.45" fill="none" stroke-width="1.85"/>
<rect x="442.18" y="409.84" width="7.45" height="7.45" fill="none" stroke-width="1.85"/>
<rect x="442.18" y="412.37" width="7.45" height="7.45" fill="none" stroke-width="1.85"/>
<rect x="442.18" y="419.82" width="7.45" height="7.45" fill="none" stroke-width="1.85"/>
<rect x="442.18" y="415.54" width="7.45" height="7.45" fill="none" stroke-width="1.85"/>
<rect x="442.18" y="423.3" width="7.45" height="7.45" fill="none" stroke-width="1.85"/>
<rect x="442.18" y="426.95" width="7.45" height="7.45" fill="none" stroke-width="1.85"/>
<rect x="442.18" y="440.41" width="7.45" height="7.45" fill="none" stroke-width="1.85"/>
<line x1="509.4" y1="401.05" x2="547.1" y2="388.85" stroke-width="0.8"/>
<line x1="509.4" y1="407.54" x2="547.1" y2="462.03" stroke-width="0.8"/>
<line x1="509.4" y1="418.95" x2="547.1" y2="380.3" stroke-width="0.8"/>
<line x1="509.4" y1="423.07" x2="547.1" y2="416.57" stroke-width="0.8"/>
<line x1="509.4" y1="424.81" x2="547.1" y2="419.9" stroke-width="0.8"/>
<line x1="509.4" y1="430.83" x2="547.1" y2="423.07" stroke-width="0.8"/>
<line x1="509.4" y1="434.95" x2="547.1" y2="428.61" stroke-width="0.8"/>
<line x1="509.4" y1="464.89" x2="547.1" y2="475.18" stroke-width="0.8"/>
<path d="M509.4 397.25L513.25 404.85L505.55 404.85Z" stroke="none"/>
<path d="M509.4 403.74L513.25 411.34L505.55 411.34Z" stroke="none"/>
<path d="M509.4 415.15L513.25 422.75L505.55 422.75Z" stroke="none"/>
<path d="M509.4 419.27L513.25 426.87L505.55 426.87Z" stroke="none"/>
<path d="M509.4 421.01L513.25 428.61L505.55 428.61Z" stroke="none"/>
<path d="M509.4 427.03L513.25 434.63L505.55 434.63Z" stroke="none"/>
<path d="M509.4 431.15L513.25 438.75L505.55 438.75Z" stroke="none"/>
<path d="M509.4 461.09L513.25 468.69L505.55 468.69Z" stroke="none"/>
<rect x="543.38" y="385.13" width="7.45" height="7.45" fill="none" stroke-width="1.85"/>
<rect x="543.38" y="458.31" width="7.45" height="7.45" fill="none" stroke-width="1.85"/>
<rect x="543.38" y="376.57" width="7.45" height="7.45" fill="none" stroke-width="1.85"/>
<rect x="543.38" y="412.85" width="7.45" height="7.45" fill="none" stroke-width="1.85"/>
<rect x="543.38" y="416.18" width="7.45" height="7.45" fill="none" stroke-width="1.85"/>
<rect x="543.38" y="419.34" width="7.45" height="7.45" fill="none" stroke-width="1.85"/>
<rect x="543.38" y="424.89" width="7.45" height="7.45" fill="none" stroke-width="1.85"/>
<rect x="543.38" y="471.46" width="7.45" height="7.45" fill="none" stroke-width="1.85"/>
<line x1="382.8" y1="570.6" x2="382.8" y2="762.68" stroke-width="2.1" />
<line x1="375" y1="761.68" x2="382.8" y2="761.68" stroke-width="2.0" />
<text x="371.6" y="766.78" font-size="14.3" font-weight="bold" text-anchor="end" stroke="none" >40</text>
<rect x="348" y="762.13" width="7.8" height="1.6" stroke="none"/>
<line x1="375" y1="730" x2="382.8" y2="730" stroke-width="2.0" />
<text x="371.6" y="735.1" font-size="14.3" font-weight="bold" text-anchor="end" stroke="none" >20</text>
<rect x="348" y="730.45" width="7.8" height="1.6" stroke="none"/>
<line x1="375" y1="698.32" x2="382.8" y2="698.32" stroke-width="2.0" />
<text x="372.9" y="703.42" font-size="14.3" font-weight="bold" text-anchor="end" stroke="none" >0</text>
<line x1="375" y1="666.64" x2="382.8" y2="666.64" stroke-width="2.0" />
<text x="372.9" y="671.74" font-size="14.3" font-weight="bold" text-anchor="end" stroke="none" >20</text>
<line x1="375" y1="634.96" x2="382.8" y2="634.96" stroke-width="2.0" />
<text x="372.9" y="640.06" font-size="14.3" font-weight="bold" text-anchor="end" stroke="none" >40</text>
<line x1="375" y1="603.28" x2="382.8" y2="603.28" stroke-width="2.0" />
<text x="372.9" y="608.38" font-size="14.3" font-weight="bold" text-anchor="end" stroke="none" >60</text>
<line x1="375" y1="571.6" x2="382.8" y2="571.6" stroke-width="2.0" />
<text x="372.9" y="576.7" font-size="14.3" font-weight="bold" text-anchor="end" stroke="none" >80</text>
<line x1="375" y1="761.68" x2="573" y2="761.68" stroke-width="2.1" />
<line x1="426.8" y1="761.68" x2="426.8" y2="769.68" stroke-width="2.0" />
<text x="426.8" y="784.88" font-size="14.4" font-weight="bold" text-anchor="middle" stroke="none" >Ctrl-CM</text>
<line x1="528" y1="761.68" x2="528" y2="769.68" stroke-width="2.0" />
<text x="528" y="784.88" font-size="14.4" font-weight="bold" text-anchor="middle" stroke="none" >Reo-CM</text>
<text transform="translate(343.1,666.64) rotate(-90)" x="0" y="0" font-size="15.75" font-weight="bold" text-anchor="middle" stroke="none">% DEAD (minus no-CM)</text>
<line x1="388.3" y1="698.32" x2="573" y2="698.32" stroke-width="2.2" stroke-dasharray="0 5.697" stroke-linecap="round"/>
<line x1="408.2" y1="684.38" x2="445.9" y2="680.9" stroke-width="0.8"/>
<line x1="408.2" y1="685.17" x2="445.9" y2="685.49" stroke-width="0.8"/>
<line x1="408.2" y1="689.45" x2="445.9" y2="680.58" stroke-width="0.8"/>
<line x1="408.2" y1="691.03" x2="445.9" y2="686.92" stroke-width="0.8"/>
<line x1="408.2" y1="696.89" x2="445.9" y2="687.71" stroke-width="0.8"/>
<line x1="408.2" y1="700.38" x2="445.9" y2="691.19" stroke-width="0.8"/>
<line x1="408.2" y1="706.24" x2="445.9" y2="693.57" stroke-width="0.8"/>
<line x1="408.2" y1="707.03" x2="445.9" y2="714.48" stroke-width="0.8"/>
<path d="M408.2 680.58L412.05 688.18L404.35 688.18Z" stroke="none"/>
<path d="M408.2 681.37L412.05 688.97L404.35 688.97Z" stroke="none"/>
<path d="M408.2 685.65L412.05 693.25L404.35 693.25Z" stroke="none"/>
<path d="M408.2 687.23L412.05 694.83L404.35 694.83Z" stroke="none"/>
<path d="M408.2 693.09L412.05 700.69L404.35 700.69Z" stroke="none"/>
<path d="M408.2 696.58L412.05 704.18L404.35 704.18Z" stroke="none"/>
<path d="M408.2 702.44L412.05 710.04L404.35 710.04Z" stroke="none"/>
<path d="M408.2 703.23L412.05 710.83L404.35 710.83Z" stroke="none"/>
<circle cx="445.9" cy="680.9" r="4.1" fill="#a20000" stroke="none"/>
<circle cx="445.9" cy="685.49" r="4.1" fill="#a20000" stroke="none"/>
<circle cx="445.9" cy="680.58" r="4.1" fill="#a20000" stroke="none"/>
<circle cx="445.9" cy="686.92" r="4.1" fill="#a20000" stroke="none"/>
<circle cx="445.9" cy="687.71" r="4.1" fill="#a20000" stroke="none"/>
<circle cx="445.9" cy="691.19" r="4.1" fill="#a20000" stroke="none"/>
<circle cx="445.9" cy="693.57" r="4.1" fill="#a20000" stroke="none"/>
<circle cx="445.9" cy="714.48" r="4.1" fill="#a20000" stroke="none"/>
<line x1="509.4" y1="671.55" x2="547.1" y2="687.23" stroke-width="0.8"/>
<line x1="509.4" y1="678.04" x2="547.1" y2="700.38" stroke-width="0.8"/>
<line x1="509.4" y1="689.45" x2="547.1" y2="684.7" stroke-width="0.8"/>
<line x1="509.4" y1="693.57" x2="547.1" y2="688.5" stroke-width="0.8"/>
<line x1="509.4" y1="695.31" x2="547.1" y2="669.17" stroke-width="0.8"/>
<line x1="509.4" y1="701.33" x2="547.1" y2="691.67" stroke-width="0.8"/>
<line x1="509.4" y1="705.45" x2="547.1" y2="709.09" stroke-width="0.8"/>
<line x1="509.4" y1="735.39" x2="547.1" y2="731.27" stroke-width="0.8"/>
<path d="M509.4 667.75L513.25 675.35L505.55 675.35Z" stroke="none"/>
<path d="M509.4 674.24L513.25 681.84L505.55 681.84Z" stroke="none"/>
<path d="M509.4 685.65L513.25 693.25L505.55 693.25Z" stroke="none"/>
<path d="M509.4 689.77L513.25 697.37L505.55 697.37Z" stroke="none"/>
<path d="M509.4 691.51L513.25 699.11L505.55 699.11Z" stroke="none"/>
<path d="M509.4 697.53L513.25 705.13L505.55 705.13Z" stroke="none"/>
<path d="M509.4 701.65L513.25 709.25L505.55 709.25Z" stroke="none"/>
<path d="M509.4 731.59L513.25 739.19L505.55 739.19Z" stroke="none"/>
<circle cx="547.1" cy="687.23" r="4.1" fill="#a20000" stroke="none"/>
<circle cx="547.1" cy="700.38" r="4.1" fill="#a20000" stroke="none"/>
<circle cx="547.1" cy="684.7" r="4.1" fill="#a20000" stroke="none"/>
<circle cx="547.1" cy="688.5" r="4.1" fill="#a20000" stroke="none"/>
<circle cx="547.1" cy="669.17" r="4.1" fill="#a20000" stroke="none"/>
<circle cx="547.1" cy="691.67" r="4.1" fill="#a20000" stroke="none"/>
<circle cx="547.1" cy="709.09" r="4.1" fill="#a20000" stroke="none"/>
<circle cx="547.1" cy="731.27" r="4.1" fill="#a20000" stroke="none"/>
<path d="M101 77.3V66H125.8V77.3" fill="none" stroke-width="2.0"/>
<polygon points="113.2,58 113.6,60.21 115.71,59.45 114,60.9 115.71,62.35 113.6,61.59 113.2,63.8 112.8,61.59 110.69,62.35 112.4,60.9 110.69,59.45 112.8,60.21" stroke-width="0.5" stroke-linejoin="round"/>
<path d="M167.1 77.5V66.1H188.1V77.5" fill="none" stroke-width="2.0"/>
<polygon points="173.45,57.9 173.85,60.11 175.96,59.35 174.25,60.8 175.96,62.25 173.85,61.49 173.45,63.7 173.05,61.49 170.94,62.25 172.65,60.8 170.94,59.35 173.05,60.11" stroke-width="0.5" stroke-linejoin="round"/>
<polygon points="180.75,57.9 181.15,60.11 183.26,59.35 181.55,60.8 183.26,62.25 181.15,61.49 180.75,63.7 180.35,61.49 178.24,62.25 179.95,60.8 178.24,59.35 180.35,60.11" stroke-width="0.5" stroke-linejoin="round"/>
<path d="M233.1 77.4V66H257.9V77.4" fill="none" stroke-width="2.0"/>
<polygon points="233.44,57.8 233.84,60.01 235.96,59.25 234.25,60.7 235.96,62.15 233.84,61.39 233.44,63.6 233.04,61.39 230.93,62.15 232.64,60.7 230.93,59.25 233.04,60.01" stroke-width="0.5" stroke-linejoin="round"/>
<polygon points="241.22,57.8 241.62,60.01 243.73,59.25 242.02,60.7 243.73,62.15 241.62,61.39 241.22,63.6 240.81,61.39 238.7,62.15 240.41,60.7 238.7,59.25 240.81,60.01" stroke-width="0.5" stroke-linejoin="round"/>
<polygon points="248.98,57.8 249.38,60.01 251.5,59.25 249.78,60.7 251.5,62.15 249.38,61.39 248.98,63.6 248.58,61.39 246.47,62.15 248.18,60.7 246.47,59.25 248.58,60.01" stroke-width="0.5" stroke-linejoin="round"/>
<polygon points="256.75,57.8 257.15,60.01 259.27,59.25 257.56,60.7 259.27,62.15 257.15,61.39 256.75,63.6 256.36,61.39 254.24,62.15 255.95,60.7 254.24,59.25 256.36,60.01" stroke-width="0.5" stroke-linejoin="round"/>
<path d="M196 47.7V37.2H257.9V47.7" fill="none" stroke-width="2.0"/>
<polygon points="222.45,28.4 222.85,30.61 224.96,29.85 223.25,31.3 224.96,32.75 222.85,31.99 222.45,34.2 222.05,31.99 219.94,32.75 221.65,31.3 219.94,29.85 222.05,30.61" stroke-width="0.5" stroke-linejoin="round"/>
<polygon points="230.25,28.4 230.65,30.61 232.76,29.85 231.05,31.3 232.76,32.75 230.65,31.99 230.25,34.2 229.85,31.99 227.74,32.75 229.45,31.3 227.74,29.85 229.85,30.61" stroke-width="0.5" stroke-linejoin="round"/>
<path d="M125.8 32V20.9H257.9V32" fill="none" stroke-width="2.0"/>
<polygon points="183.8,12.7 184.2,14.91 186.31,14.15 184.6,15.6 186.31,17.05 184.2,16.29 183.8,18.5 183.4,16.29 181.29,17.05 183,15.6 181.29,14.15 183.4,14.91" stroke-width="0.5" stroke-linejoin="round"/>
<polygon points="191.3,12.7 191.7,14.91 193.81,14.15 192.1,15.6 193.81,17.05 191.7,16.29 191.3,18.5 190.9,16.29 188.79,17.05 190.5,15.6 188.79,14.15 190.9,14.91" stroke-width="0.5" stroke-linejoin="round"/>
<polygon points="198.8,12.7 199.2,14.91 201.31,14.15 199.6,15.6 201.31,17.05 199.2,16.29 198.8,18.5 198.4,16.29 196.29,17.05 198,15.6 196.29,14.15 198.4,14.91" stroke-width="0.5" stroke-linejoin="round"/>
<path d="M445.8 79.5V68.9H547V79.5" fill="none" stroke-width="2.0"/>
<polygon points="492.35,60 492.75,62.21 494.86,61.45 493.15,62.9 494.86,64.35 492.75,63.59 492.35,65.8 491.95,63.59 489.84,64.35 491.55,62.9 489.84,61.45 491.95,62.21" stroke-width="0.5" stroke-linejoin="round"/>
<polygon points="499.25,60 499.65,62.21 501.76,61.45 500.05,62.9 501.76,64.35 499.65,63.59 499.25,65.8 498.85,63.59 496.74,64.35 498.45,62.9 496.74,61.45 498.85,62.21" stroke-width="0.5" stroke-linejoin="round"/>
<path d="M509 108.7V97.9H547V108.7" fill="none" stroke-width="2.0"/>
<polygon points="523.7,89.2 524.1,91.41 526.21,90.65 524.5,92.1 526.21,93.55 524.1,92.79 523.7,95 523.3,92.79 521.19,93.55 522.9,92.1 521.19,90.65 523.3,91.41" stroke-width="0.5" stroke-linejoin="round"/>
<polygon points="531.5,89.2 531.9,91.41 534.01,90.65 532.3,92.1 534.01,93.55 531.9,92.79 531.5,95 531.1,92.79 528.99,93.55 530.7,92.1 528.99,90.65 531.1,91.41" stroke-width="0.5" stroke-linejoin="round"/>
<path d="M167 346.8V335.9H191.9V346.8" fill="none" stroke-width="2.0"/>
<polygon points="179.4,322.5 179.8,324.71 181.91,323.95 180.2,325.4 181.91,326.85 179.8,326.09 179.4,328.3 179,326.09 176.89,326.85 178.6,325.4 176.89,323.95 179,324.71" stroke-width="0.5" stroke-linejoin="round"/>
<path d="M233.1 346.8V335.9H257.6V346.8" fill="none" stroke-width="2.0"/>
<polygon points="245.4,322.5 245.8,324.71 247.91,323.95 246.2,325.4 247.91,326.85 245.8,326.09 245.4,328.3 245,326.09 242.89,326.85 244.6,325.4 242.89,323.95 245,324.71" stroke-width="0.5" stroke-linejoin="round"/>
<path d="M101 607.7V596.7H125.9V607.7" fill="none" stroke-width="2.0"/>
<polygon points="101.6,588.2 102,590.41 104.11,589.65 102.4,591.1 104.11,592.55 102,591.79 101.6,594 101.2,591.79 99.09,592.55 100.8,591.1 99.09,589.65 101.2,590.41" stroke-width="0.5" stroke-linejoin="round"/>
<polygon points="109.1,588.2 109.5,590.41 111.61,589.65 109.9,591.1 111.61,592.55 109.5,591.79 109.1,594 108.7,591.79 106.59,592.55 108.3,591.1 106.59,589.65 108.7,590.41" stroke-width="0.5" stroke-linejoin="round"/>
<polygon points="116.6,588.2 117,590.41 119.11,589.65 117.4,591.1 119.11,592.55 117,591.79 116.6,594 116.2,591.79 114.09,592.55 115.8,591.1 114.09,589.65 116.2,590.41" stroke-width="0.5" stroke-linejoin="round"/>
<polygon points="124.1,588.2 124.5,590.41 126.61,589.65 124.9,591.1 126.61,592.55 124.5,591.79 124.1,594 123.7,591.79 121.59,592.55 123.3,591.1 121.59,589.65 123.7,590.41" stroke-width="0.5" stroke-linejoin="round"/>
<path d="M167 607.7V596.7H191.9V607.7" fill="none" stroke-width="2.0"/>
<polygon points="167.6,588.2 168,590.41 170.11,589.65 168.4,591.1 170.11,592.55 168,591.79 167.6,594 167.2,591.79 165.09,592.55 166.8,591.1 165.09,589.65 167.2,590.41" stroke-width="0.5" stroke-linejoin="round"/>
<polygon points="175.1,588.2 175.5,590.41 177.61,589.65 175.9,591.1 177.61,592.55 175.5,591.79 175.1,594 174.7,591.79 172.59,592.55 174.3,591.1 172.59,589.65 174.7,590.41" stroke-width="0.5" stroke-linejoin="round"/>
<polygon points="182.6,588.2 183,590.41 185.11,589.65 183.4,591.1 185.11,592.55 183,591.79 182.6,594 182.2,591.79 180.09,592.55 181.8,591.1 180.09,589.65 182.2,590.41" stroke-width="0.5" stroke-linejoin="round"/>
<polygon points="190.1,588.2 190.5,590.41 192.61,589.65 190.9,591.1 192.61,592.55 190.5,591.79 190.1,594 189.7,591.79 187.59,592.55 189.3,591.1 187.59,589.65 189.7,590.41" stroke-width="0.5" stroke-linejoin="round"/>
<path d="M233.1 607.7V596.7H257.6V607.7" fill="none" stroke-width="2.0"/>
<polygon points="233.5,588.2 233.9,590.41 236.01,589.65 234.3,591.1 236.01,592.55 233.9,591.79 233.5,594 233.1,591.79 230.99,592.55 232.7,591.1 230.99,589.65 233.1,590.41" stroke-width="0.5" stroke-linejoin="round"/>
<polygon points="241,588.2 241.4,590.41 243.51,589.65 241.8,591.1 243.51,592.55 241.4,591.79 241,594 240.6,591.79 238.49,592.55 240.2,591.1 238.49,589.65 240.6,590.41" stroke-width="0.5" stroke-linejoin="round"/>
<polygon points="248.5,588.2 248.9,590.41 251.01,589.65 249.3,591.1 251.01,592.55 248.9,591.79 248.5,594 248.1,591.79 245.99,592.55 247.7,591.1 245.99,589.65 248.1,590.41" stroke-width="0.5" stroke-linejoin="round"/>
<polygon points="256,588.2 256.4,590.41 258.51,589.65 256.8,591.1 258.51,592.55 256.4,591.79 256,594 255.6,591.79 253.49,592.55 255.2,591.1 253.49,589.65 255.6,590.41" stroke-width="0.5" stroke-linejoin="round"/>
</svg>
</body></html>
